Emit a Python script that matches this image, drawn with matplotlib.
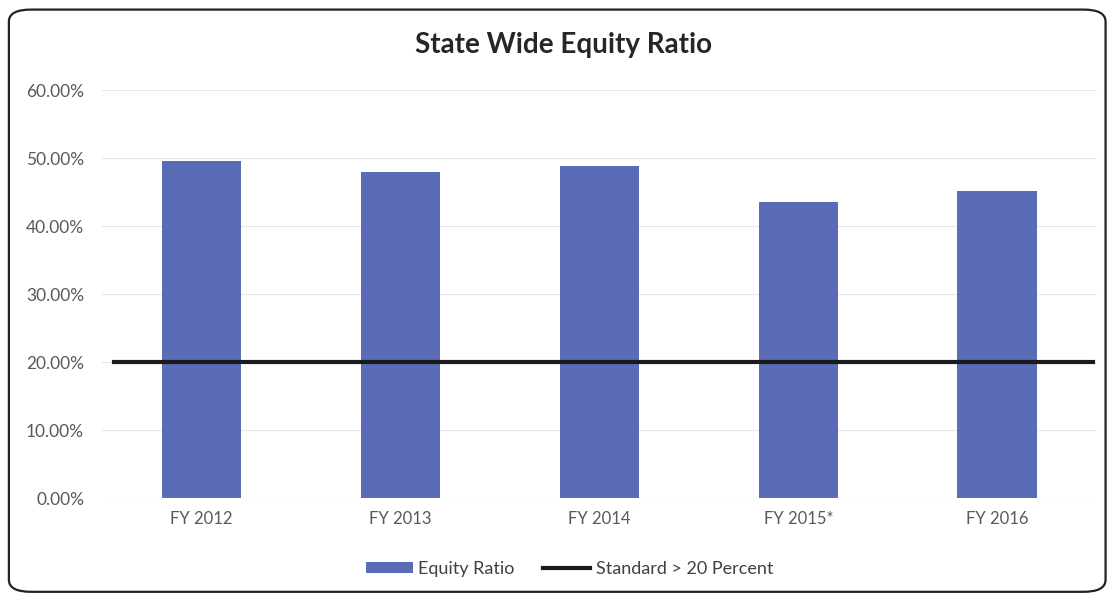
import matplotlib.pyplot as plt
from matplotlib.patches import FancyBboxPatch
from matplotlib.ticker import FuncFormatter

years = ['FY 2012', 'FY 2013', 'FY 2014', 'FY 2015*', 'FY 2016']
equity_ratio = [49.5, 48.0, 48.8, 43.6, 45.1]
standard = 20.0

plt.rcParams['font.family'] = ['Lato', 'DejaVu Sans']

fig = plt.figure(figsize=(11.1, 5.99), dpi=100)
ax = fig.add_axes([0.092, 0.1686, 0.896, 0.681])

x = range(len(years))
bars = ax.bar(x, equity_ratio, width=0.4, color='#5a6cb8', label='Equity Ratio', zorder=2)
line = ax.axhline(standard, xmin=0.012, xmax=0.996, color='#1a1a1a', lw=3.0,
                  label='Standard > 20 Percent', zorder=3)

ax.set_xlim(-0.5, len(years) - 0.5)
ax.set_ylim(0, 60)
ax.set_yticks(range(0, 61, 10))
ax.yaxis.set_major_formatter(FuncFormatter(lambda v, p: f'{v:.2f}%'))
ax.set_xticks(list(x))
ax.set_xticklabels(years)
ax.tick_params(axis='x', length=0, labelsize=12, colors='#595959', pad=9)
ax.tick_params(axis='y', length=0, labelsize=12.5, colors='#595959', pad=13)
ax.grid(axis='y', color='#e6e6ee', lw=0.8, zorder=0)
for s in ax.spines.values():
    s.set_visible(False)

fig.text(0.508, 0.925, 'State Wide Equity Ratio', ha='center', va='center',
         fontsize=20, fontweight='bold', color='#262626')

leg = fig.legend([bars, line], ['Equity Ratio', 'Standard > 20 Percent'],
                 loc='center', bbox_to_anchor=(0.513, 0.05), ncol=2, frameon=False,
                 fontsize=13, handlelength=2.6, handleheight=0.5, columnspacing=1.6,
                 handletextpad=0.3)
for t in leg.get_texts():
    t.set_color('#404040')

border = FancyBboxPatch((0.008, 0.012), 0.988, 0.972, boxstyle='round,pad=0,rounding_size=0.02',
                        transform=fig.transFigure, fill=False, ec='#222222', lw=1.6)
fig.patches.append(border)

fig.savefig('out.png', dpi=100)
